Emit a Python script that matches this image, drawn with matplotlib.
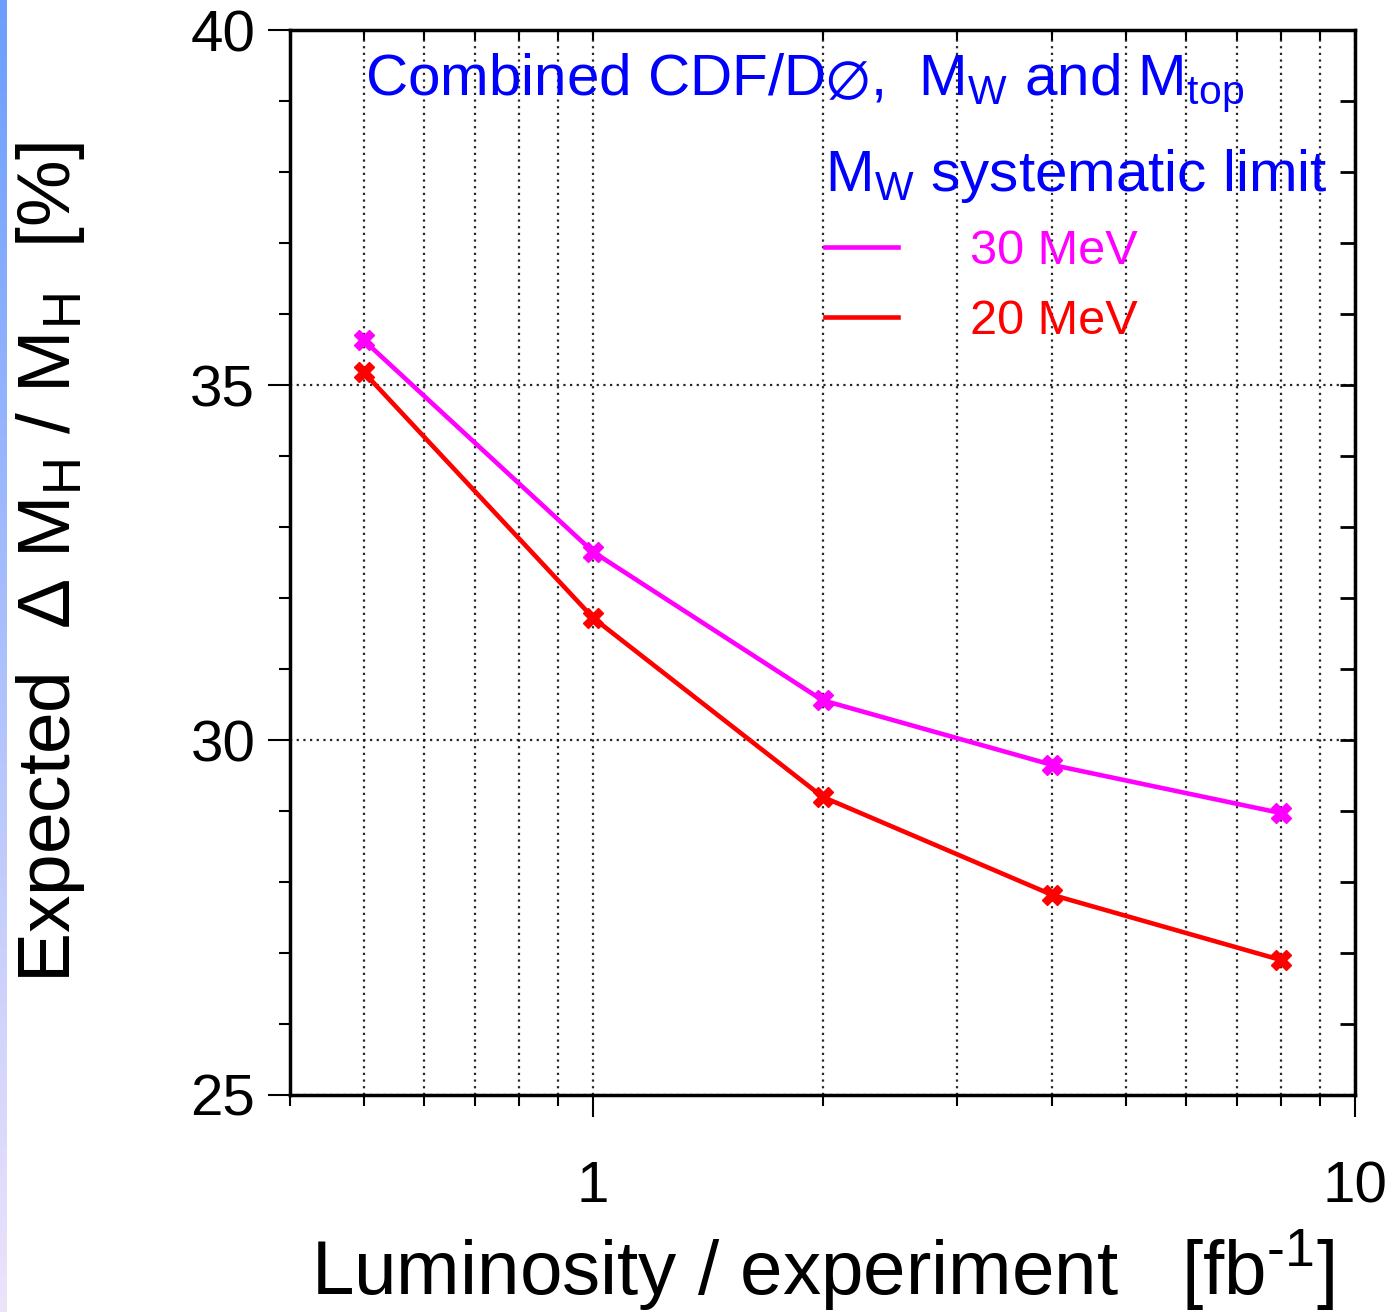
"""
Expected relative Higgs mass uncertainty vs luminosity per experiment,
for two M_W systematic limits (combined CDF/D0, M_W and M_top).
"""
import numpy as np
import matplotlib.pyplot as plt
from matplotlib.ticker import FixedLocator, NullFormatter, FuncFormatter, MultipleLocator

plt.rcParams['font.family'] = ['Liberation Sans', 'DejaVu Sans']
plt.rcParams['mathtext.fontset'] = 'custom'
plt.rcParams['mathtext.rm'] = 'Liberation Sans'
plt.rcParams['mathtext.it'] = 'Liberation Sans:italic'
plt.rcParams['mathtext.default'] = 'regular'

# ---- data -----------------------------------------------------------------
lumi = [0.5, 1, 2, 4, 8]                          # fb^-1 per experiment
dmh_30 = [35.63, 32.65, 30.56, 29.65, 28.97]       # M_W syst 30 MeV
dmh_20 = [35.18, 31.72, 29.20, 27.82, 26.90]       # M_W syst 20 MeV
labels = ['30 MeV', '20 MeV']

C_30 = '#ff00ff'
C_20 = '#ff0000'
C_TXT = '#0000ff'

fig = plt.figure(figsize=(14, 13.12), dpi=100)

# thin gradient strip on the left edge (slide background)
strip = fig.add_axes([0, 0, 0.005, 1])
grad = np.linspace(0, 1, 256).reshape(-1, 1)
top_c = np.array([0.42, 0.62, 1.0])
bot_c = np.array([0.93, 0.89, 0.98])
img = top_c[None, None, :] * (1 - grad[:, :, None]) + bot_c[None, None, :] * grad[:, :, None]
strip.imshow(img, aspect='auto')
strip.axis('off')

ax = fig.add_axes([0.2071, 0.1654, 0.7608, 0.8117])
l30, = ax.plot(lumi, dmh_30, color=C_30, lw=3.3, marker='X', ms=14, mec=C_30, label=labels[0], zorder=3)
l20, = ax.plot(lumi, dmh_20, color=C_20, lw=3.3, marker='X', ms=14, mec=C_20, label=labels[1], zorder=3)

ax.set_xscale('log')
ax.set_xlim(0.4, 10)
ax.set_ylim(25, 40)

ax.xaxis.set_major_locator(FixedLocator([1, 10]))
ax.xaxis.set_minor_locator(FixedLocator([0.4, 0.5, 0.6, 0.7, 0.8, 0.9, 2, 3, 4, 5, 6, 7, 8, 9]))
ax.xaxis.set_major_formatter(FuncFormatter(lambda v, p: f'{v:g}'))
ax.xaxis.set_minor_formatter(NullFormatter())
ax.yaxis.set_major_locator(MultipleLocator(5))
ax.yaxis.set_minor_locator(MultipleLocator(1))

ax.tick_params(axis='both', which='major', direction='out', length=16, width=1.5,
               labelsize=42, colors='black')
ax.tick_params(axis='both', which='minor', direction='out', length=8, width=1.5)
ax.tick_params(axis='x', which='major', pad=31)
ax.tick_params(axis='y', which='major', pad=9)
for s in ax.spines.values():
    s.set_linewidth(2.5)

# inward ticks on top / right
top = ax.secondary_xaxis('top')
top.xaxis.set_major_locator(FixedLocator([1, 10]))
top.xaxis.set_minor_locator(FixedLocator([0.5, 0.6, 0.7, 0.8, 0.9, 2, 3, 4, 5, 6, 7, 8, 9]))
top.tick_params(which='both', direction='in', length=7, width=1.5, labeltop=False)
top.xaxis.set_major_formatter(NullFormatter())
top.xaxis.set_minor_formatter(NullFormatter())
right = ax.secondary_yaxis('right')
right.yaxis.set_major_locator(MultipleLocator(5))
right.yaxis.set_minor_locator(MultipleLocator(1))
right.tick_params(which='both', direction='in', length=11, width=2, labelright=False)

dots = (0, (1.0, 2.0))
ax.grid(axis='x', which='both', color='black', linestyle=dots, lw=1.6, alpha=0.85)
ax.grid(axis='y', which='major', color='black', linestyle=dots, lw=1.6, alpha=0.85)
ax.set_axisbelow(True)

ax.set_xlabel(r'Luminosity / experiment   [fb$^{\text{-1}}$]', fontsize=55)
ax.set_ylabel(r'Expected  $\Delta$ M$_\mathrm{H}$ / M$_\mathrm{H}$  [%]', fontsize=54, labelpad=74)
ax.xaxis.set_label_coords(0.5, -0.125)

ax.text(0.0704, 0.939, r'Combined CDF/D$\emptyset$,  M$_\mathrm{W}$ and M$_\mathrm{top}$',
        transform=ax.transAxes, color=C_TXT, fontsize=42, ha='left', va='baseline')

leg = ax.legend(handles=[l30, l20], labels=labels, loc='upper left',
                bbox_to_anchor=(0.502, 0.89), frameon=False, fontsize=35,
                title='M$_\\mathrm{W}$ systematic limit', title_fontsize=42,
                handlelength=1.5, handletextpad=1.5, labelspacing=0.5,
                borderpad=0, borderaxespad=0, labelcolor='linecolor',
                alignment='left')
leg.get_title().set_color(C_TXT)
for h in leg.legend_handles:
    h.set_marker('')
    h.set_linewidth(3.3)

fig.savefig('out.png', dpi=100)
